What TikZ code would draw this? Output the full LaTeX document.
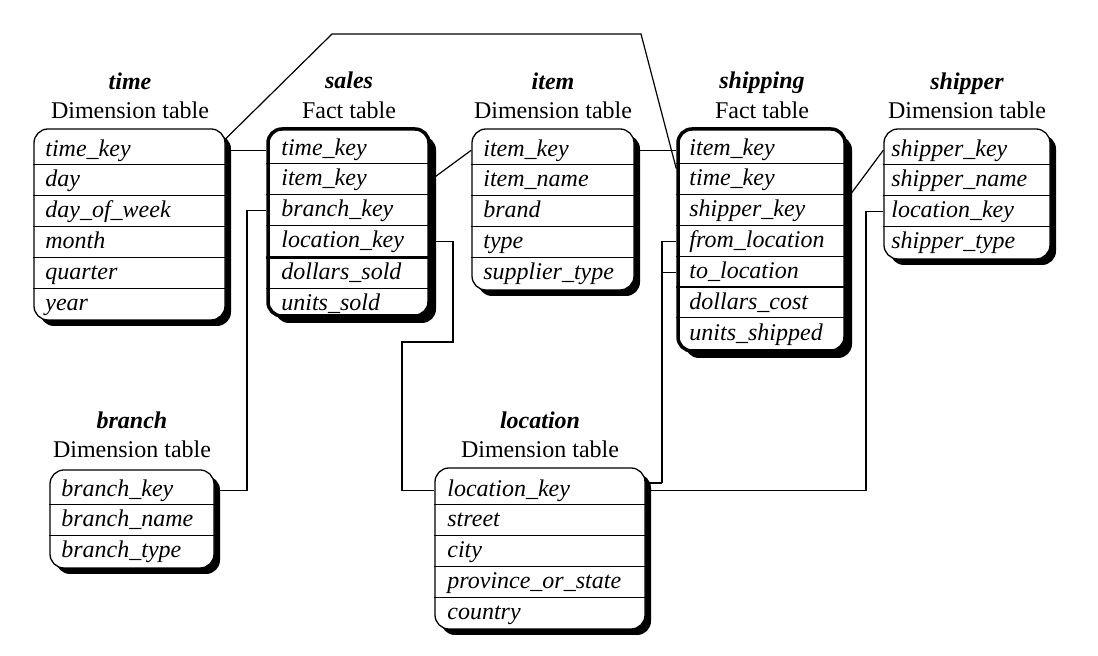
\documentclass[tikz,border=0pt]{standalone}
\usepackage{fontspec}
\setmainfont{Liberation Serif}
\usetikzlibrary{fit,shadows}
\newcommand\tabfont{\fontsize{12}{14}\selectfont}
\tikzset{
  dimtab/.style={draw, line width=0.65pt, fill=white, rounded corners=7pt, inner sep=0pt,
    drop shadow={shadow xshift=3pt, shadow yshift=-3pt, opacity=1, fill=black}},
  facttab/.style={draw, line width=1.75pt, fill=white, rounded corners=7pt, inner sep=0pt,
    drop shadow={shadow xshift=3.5pt, shadow yshift=-3.5pt, opacity=1, fill=black}},
  rowtext/.style={anchor=west, inner sep=0pt, text height=8.5pt, text depth=2.5pt,
    xshift=1.5pt, yshift=-0.6pt, font=\tabfont\itshape},
  ttl/.style={anchor=base, inner sep=0pt, font=\tabfont\bfseries\itshape},
  sub/.style={anchor=base, inner sep=0pt, font=\tabfont},
  div/.style={line width=0.5pt},
  thickdiv/.style={line width=1.2pt},
  conn/.style={line width=0.6pt}
}
\begin{document}
\begin{tikzpicture}[x=0.5pt,y=-0.5pt]
\useasboundingbox (0,0) rectangle (1098,656);

% ---------- titles ----------
\node[ttl] (time-t) at (130,90) {time};
\node[sub] (time-s) at (130,119) {Dimension table};
\node[ttl] (sales-t) at (349,89) {sales};
\node[sub] (sales-s) at (349,119) {Fact table};
\node[ttl] (item-t) at (553,90) {item};
\node[sub] (item-s) at (553,119) {Dimension table};
\node[ttl] (shipping-t) at (762,89) {shipping};
\node[sub] (shipping-s) at (762,119) {Fact table};
\node[ttl] (shipper-t) at (967,90) {shipper};
\node[sub] (shipper-s) at (967,119) {Dimension table};
\node[ttl] (branch-t) at (132,429) {branch};
\node[sub] (branch-s) at (132,458) {Dimension table};
\node[ttl] (location-t) at (540,429) {location};
\node[sub] (location-s) at (540,458) {Dimension table};

% ---------- time ----------
\node[dimtab, fit={(34,129) (225,320)}] (time) {};
\foreach \y in {165,195.8,226.6,257.4,288.2}
  \draw[div] (time.west |- 0,\y) -- (time.east |- 0,\y);
\node[rowtext] (time-1) at (42,149) {time\_key};
\node[rowtext] (time-2) at (42,179.8) {day};
\node[rowtext] (time-3) at (42,210.6) {day\_of\_week};
\node[rowtext] (time-4) at (42,241.4) {month};
\node[rowtext] (time-5) at (42,272.2) {quarter};
\node[rowtext] (time-6) at (42,303) {year};

% ---------- sales ----------
\node[facttab, fit={(268,129) (429,316)}] (sales) {};
\foreach \y in {164,194.8,225.6,288.2}
  \draw[div] (sales.west |- 0,\y) -- (sales.east |- 0,\y);
\draw[thickdiv] (sales.west |- 0,257.4) -- (sales.east |- 0,257.4);
\node[rowtext] (sales-1) at (278,148) {time\_key};
\node[rowtext] (sales-2) at (278,178.8) {item\_key};
\node[rowtext] (sales-3) at (278,209.6) {branch\_key};
\node[rowtext] (sales-4) at (278,240.4) {location\_key};
\node[rowtext] (sales-5) at (278,272.2) {dollars\_sold};
\node[rowtext] (sales-6) at (278,303) {units\_sold};

% ---------- item ----------
\node[dimtab, fit={(472,129) (634,290)}] (item) {};
\foreach \y in {165,195.8,226.6,257.4}
  \draw[div] (item.west |- 0,\y) -- (item.east |- 0,\y);
\node[rowtext] (item-1) at (480,149) {item\_key};
\node[rowtext] (item-2) at (480,179.8) {item\_name};
\node[rowtext] (item-3) at (480,210.6) {brand};
\node[rowtext] (item-4) at (480,241.4) {type};
\node[rowtext] (item-5) at (480,272.2) {supplier\_type};

% ---------- shipping ----------
\node[facttab, fit={(678,129) (845,351)}] (shipping) {};
\foreach \y in {164,194.8,225.6,256.4,318}
  \draw[div] (shipping.west |- 0,\y) -- (shipping.east |- 0,\y);
\draw[thickdiv] (shipping.west |- 0,287.2) -- (shipping.east |- 0,287.2);
\node[rowtext] (shipping-1) at (686,148) {item\_key};
\node[rowtext] (shipping-2) at (686,178.8) {time\_key};
\node[rowtext] (shipping-3) at (686,209.6) {shipper\_key};
\node[rowtext] (shipping-4) at (686,240.4) {from\_location};
\node[rowtext] (shipping-5) at (686,271.2) {to\_location};
\node[rowtext] (shipping-6) at (686,302) {dollars\_cost};
\node[rowtext] (shipping-7) at (686,333) {units\_shipped};

% ---------- shipper ----------
\node[dimtab, fit={(884,129) (1050,259)}] (shipper) {};
\foreach \y in {165,195.8,226.6}
  \draw[div] (shipper.west |- 0,\y) -- (shipper.east |- 0,\y);
\node[rowtext] (shipper-1) at (888,149) {shipper\_key};
\node[rowtext] (shipper-2) at (888,179.8) {shipper\_name};
\node[rowtext] (shipper-3) at (888,210.6) {location\_key};
\node[rowtext] (shipper-4) at (888,241.4) {shipper\_type};

% ---------- branch ----------
\node[dimtab, fit={(50,470) (214,568)}] (branch) {};
\foreach \y in {505,535.8}
  \draw[div] (branch.west |- 0,\y) -- (branch.east |- 0,\y);
\node[rowtext] (branch-1) at (58,489) {branch\_key};
\node[rowtext] (branch-2) at (58,519.8) {branch\_name};
\node[rowtext] (branch-3) at (58,550.6) {branch\_type};

% ---------- location ----------
\node[dimtab, fit={(435,468) (645,629)}] (location) {};
\foreach \y in {505,535.8,566.6,597.4}
  \draw[div] (location.west |- 0,\y) -- (location.east |- 0,\y);
\node[rowtext] (location-1) at (444,489) {location\_key};
\node[rowtext] (location-2) at (444,519.8) {street};
\node[rowtext] (location-3) at (444,550.6) {city};
\node[rowtext] (location-4) at (444,581.4) {province\_or\_state};
\node[rowtext] (location-5) at (444,612.2) {country};

% ---------- connectors ----------
\coordinate (tk1) at (332,34);
\coordinate (tk2) at (641,34);
\coordinate (br1) at (247,350);
\coordinate (lc1) at (453,342);
\coordinate (lc2) at (402,400);
\coordinate (fl) at (662,483);
\coordinate (sl) at (866,400);

\draw[conn] (time.east |- time-1) -- (sales.west |- time-1);
\draw[conn] (time.east |- time-1.north) -- (tk1) -- (tk2) -- (shipping.west |- shipping-2.north);
\draw[conn] (sales.east |- sales-2) -- (item.west |- item-1);
\draw[conn] (sales.west |- sales-3) -| (br1) |- (branch.east |- branch-1);
\draw[conn] (sales.east |- sales-4) -| (lc1) -| (lc2) |- (location.west |- location-1);
\draw[conn] (item.east |- item-1) -- (shipping.west |- item-1);
\draw[conn] (shipping.west |- shipping-4) -| (fl);
\draw[conn] (shipping.west |- shipping-5) -- (fl |- shipping-5);
\draw[conn] (fl) -- (location.east |- fl);
\draw[conn] (shipper.west |- shipper-3) -| (sl) |- (location.east |- location-1);
\draw[conn] (shipping.east |- shipping-3.north) -- (shipper.west |- shipper-1);
\end{tikzpicture}
\end{document}
